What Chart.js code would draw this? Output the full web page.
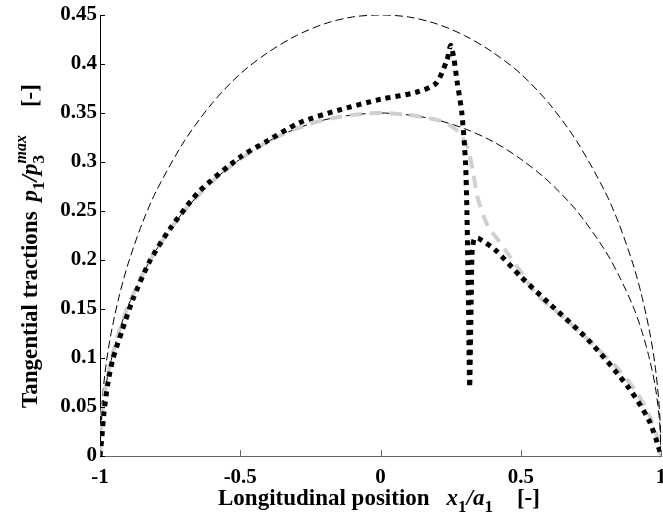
<!DOCTYPE html>
<html>
<head>
<meta charset="utf-8">
<script src="https://cdn.jsdelivr.net/npm/chart.js@4.4.0/dist/chart.umd.min.js"></script>
<style>
  html, body { margin: 0; padding: 0; background: #fff; overflow: hidden; }
</style>
</head>
<body>
<canvas id="tractionChart" width="663" height="520"></canvas>
<script>
// ---- data ----
const ellipseX = [-1, -0.995, -0.98, -0.96, -0.93, -0.9, -0.85, -0.8, -0.7, -0.6, -0.5, -0.4, -0.3, -0.2, -0.1, 0,
                  0.1, 0.2, 0.3, 0.4, 0.5, 0.6, 0.7, 0.8, 0.85, 0.9, 0.93, 0.96, 0.98, 0.995, 1];
const outerY = [0, 0.045, 0.09, 0.126, 0.165, 0.196, 0.237, 0.27, 0.321, 0.36, 0.39, 0.412, 0.429, 0.441, 0.448, 0.45,
                0.448, 0.441, 0.429, 0.412, 0.39, 0.36, 0.321, 0.27, 0.237, 0.196, 0.165, 0.126, 0.09, 0.045, 0];
const innerY = [0, 0.035, 0.07, 0.098, 0.129, 0.153, 0.184, 0.21, 0.25, 0.28, 0.303, 0.321, 0.334, 0.343, 0.348, 0.35,
                0.348, 0.343, 0.334, 0.321, 0.303, 0.28, 0.25, 0.21, 0.184, 0.153, 0.129, 0.098, 0.07, 0.035, 0];

const grayX = [-1, -0.995, -0.98, -0.96, -0.93, -0.9, -0.85, -0.8, -0.7, -0.6, -0.5, -0.4, -0.3, -0.2, -0.1, 0, 0.1, 0.2,
               0.25, 0.28, 0.31, 0.33, 0.345, 0.37, 0.39, 0.41, 0.45, 0.5, 0.56, 0.65, 0.75, 0.85, 0.92, 0.96, 0.985, 1];
const grayY = [0, 0.035, 0.07, 0.098, 0.129, 0.153, 0.184, 0.21, 0.25, 0.28, 0.303, 0.321, 0.334, 0.343, 0.348, 0.35, 0.348, 0.343,
               0.337, 0.33, 0.315, 0.29, 0.265, 0.243, 0.231, 0.224, 0.208, 0.188, 0.164, 0.142, 0.116, 0.088, 0.062, 0.04, 0.02, 0];

const blackX = [-1, -0.993, -0.986, -0.972, -0.955, -0.92, -0.884, -0.824, -0.75, -0.646, -0.5, -0.4, -0.29, -0.148, 0, 0.126,
                0.197, 0.237, 0.25, 0.262, 0.272, 0.29, 0.303, 0.308, 0.311, 0.314, 0.316, 0.318, 0.321, 0.324, 0.327,
                0.335, 0.35, 0.41, 0.5, 0.6, 0.742, 0.884, 0.956, 0.985, 1];
const blackY = [0, 0.02, 0.044, 0.074, 0.098, 0.129, 0.159, 0.198, 0.232, 0.27, 0.305, 0.322, 0.34, 0.353, 0.364, 0.371,
                0.38, 0.404, 0.419, 0.405, 0.384, 0.35, 0.3, 0.25, 0.2, 0.15, 0.1, 0.07, 0.12, 0.17, 0.21,
                0.222, 0.222, 0.21, 0.183, 0.156, 0.118, 0.07, 0.037, 0.015, 0];

const xTicks = [-1, -0.5, 0, 0.5, 1];
const xTickLabels = ['-1', '-0.5', '0', '0.5', '1'];
const yTicks = [0, 0.05, 0.1, 0.15, 0.2, 0.25, 0.3, 0.35, 0.4, 0.45];
const yTickLabels = ['0', '0.05', '0.1', '0.15', '0.2', '0.25', '0.3', '0.35', '0.4', '0.45'];

const SERIF = "'Liberation Serif', 'Times New Roman', serif";

function pts(xs, ys) {
    return xs.map((x, i) => ({ x: x, y: ys[i] }));
}

// draw a run of text pieces (normal / italic / sub / sup) one after another
function drawRich(ctx, parts, x, y) {
    let cx = x;
    parts.forEach(p => {
        ctx.font = p.font;
        ctx.fillText(p.text, cx, y + (p.dy || 0));
        if (!p.stay) cx += ctx.measureText(p.text).width + (p.gap || 0);
    });
}

const extras = {
    id: 'extras',
    afterDraw(chart) {
        const ctx = chart.ctx;
        const xs = chart.scales.x, ys = chart.scales.y;
        const area = chart.chartArea;
        ctx.save();
        // inward tick marks
        ctx.lineWidth = 1;
        ctx.strokeStyle = '#000';
        yTicks.forEach(v => {
            const py = Math.round(ys.getPixelForValue(v)) + 0.5;
            ctx.beginPath();
            ctx.moveTo(area.left, py);
            ctx.lineTo(area.left + 5, py);
            ctx.stroke();
        });
        ctx.strokeStyle = '#666';
        xTicks.forEach(v => {
            const px = Math.round(xs.getPixelForValue(v)) + 0.5;
            ctx.beginPath();
            ctx.moveTo(px, area.bottom);
            ctx.lineTo(px, area.bottom - 6);
            ctx.stroke();
        });

        ctx.fillStyle = '#000';
        ctx.textAlign = 'left';
        ctx.textBaseline = 'alphabetic';
        const norm = 'bold 23px ' + SERIF;
        const ital = 'italic bold 23px ' + SERIF;
        const sub = 'bold 17px ' + SERIF;
        const supI = 'italic bold 16px ' + SERIF;

        // x axis title
        drawRich(ctx, [
            { text: 'Longitudinal position', font: norm, gap: 17 },
            { text: 'x', font: ital },
            { text: '1', font: sub, dy: 7 },
            { text: '/', font: ital },
            { text: 'a', font: ital },
            { text: '1', font: sub, dy: 7, gap: 24 },
            { text: '[-]', font: norm }
        ], 218, 505);

        // y axis title (rotated)
        ctx.translate(37, 408);
        ctx.rotate(-Math.PI / 2);
        drawRich(ctx, [
            { text: 'Tangential tractions', font: norm, gap: 10 },
            { text: 'p', font: ital },
            { text: '1', font: sub, dy: 7 },
            { text: '/', font: ital },
            { text: 'p', font: ital },
            { text: '3', font: sub, dy: 7, stay: true },
            { text: 'max', font: supI, dy: -11, gap: 28 },
            { text: '[-]', font: norm }
        ], 0, 0);
        ctx.restore();
    }
};

const tickFont = { family: SERIF, size: 21, weight: 'bold' };

new Chart(document.getElementById('tractionChart').getContext('2d'), {
    type: 'scatter',
    data: {
        datasets: [{
            data: pts(blackX, blackY),
            showLine: true,
            borderColor: '#000',
            borderWidth: 5,
            borderDash: [5, 5],
            borderCapStyle: 'butt',
            pointRadius: 0,
            tension: 0.25
        }, {
            data: pts(grayX, grayY),
            showLine: true,
            borderColor: '#d0d0d0',
            borderWidth: 4,
            borderDash: [12, 8],
            pointRadius: 0,
            tension: 0.3
        }, {
            data: pts(ellipseX, innerY),
            showLine: true,
            borderColor: '#000',
            borderWidth: 1,
            borderDash: [8, 4],
            pointRadius: 0,
            tension: 0.3
        }, {
            data: pts(ellipseX, outerY),
            showLine: true,
            borderColor: '#000',
            borderWidth: 1,
            borderDash: [8, 4],
            pointRadius: 0,
            tension: 0.3
        }]
    },
    options: {
        responsive: false,
        animation: false,
        layout: { padding: { top: 15, right: 2, left: 0, bottom: 0 } },
        plugins: { legend: { display: false }, tooltip: { enabled: false } },
        scales: {
            x: {
                type: 'linear',
                min: -1,
                max: 1,
                grid: { display: false, drawTicks: false },
                border: { display: true, color: '#666', width: 1 },
                afterBuildTicks: s => { s.ticks = xTicks.map(v => ({ value: v })); },
                afterFit: s => { s.height = 64; s.paddingLeft = 0; s.paddingRight = 0; },
                ticks: {
                    autoSkip: false,
                    maxRotation: 0,
                    padding: 9,
                    color: '#000',
                    font: tickFont,
                    callback: (v, i) => xTickLabels[i]
                }
            },
            y: {
                min: 0,
                max: 0.45,
                grid: { display: false, drawTicks: false },
                border: { display: true, color: '#000', width: 1 },
                afterBuildTicks: s => { s.ticks = yTicks.map(v => ({ value: v })); },
                afterFit: s => { s.width = 100; s.paddingTop = 0; s.paddingBottom = 0; },
                ticks: {
                    autoSkip: false,
                    padding: 3,
                    color: '#000',
                    font: tickFont,
                    callback: (v, i) => yTickLabels[i]
                }
            }
        }
    },
    plugins: [extras]
});
</script>
</body>
</html>
